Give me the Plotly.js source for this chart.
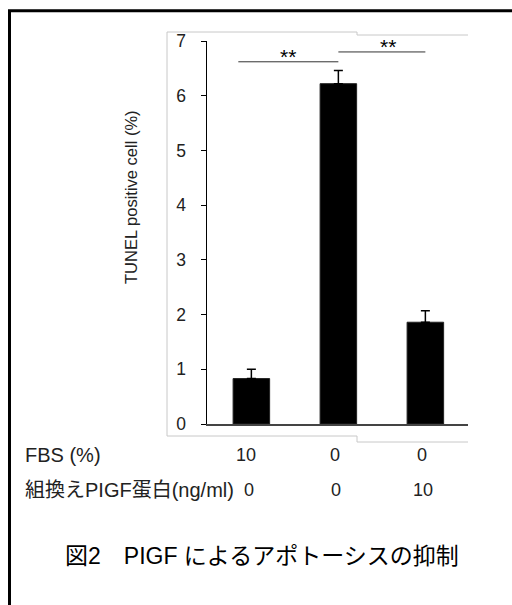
<!DOCTYPE html>
<html>
<head>
<meta charset="utf-8">
<script src="https://cdn.plot.ly/plotly-3.0.1.min.js"></script>
<style>html,body{margin:0;padding:0;background:#fff;}</style>
</head>
<body>
<div id="chart" style="width:512px;height:605px;"></div>
<script>
// ---- data ----
const groups = [0, 1, 2];
const values = [0.83, 6.22, 1.86];
const errPlus = [0.17, 0.24, 0.21];
const fbsLabels = ['10', '0', '0'];
const plgfLabels = ['0', '0', '10'];
const yTicks = [0, 1, 2, 3, 4, 5, 6, 7];
const sigStart = [-0.15, 1.0];
const sigEnd = [1.0, 2.0];
const sigLevel = [6.62, 6.80];
const sigStarX = [0.42, 1.57];
const sigText = ['**', '**'];
const rowNames = ['FBS (%)', '組換えPIGF蛋白(ng/ml)'];
const captionText = '図2　PIGF によるアポトーシスの抑制';
const yTitle = 'TUNEL positive cell (%)';

// ---- layout helpers (decoration only) ----
const W = 512, H = 605, mL = 207, mR = 44, mT = 41, mB = 181;
const pw = W - mL - mR, ph = H - mT - mB;
const PX = x => (x - mL) / pw;
const PY = y => (H - mB - y) / ph;

const latin = 'Liberation Sans, Arial, Noto Sans CJK JP, sans-serif';

const shapes = [];
// outer frame
shapes.push({type: 'rect', xref: 'paper', yref: 'paper',
  x0: PX(9.5), x1: PX(540), y0: PY(10.8), y1: PY(640),
  line: {color: '#000', width: 3}, fillcolor: 'rgba(0,0,0,0)', layer: 'above'});
// light grey crop box
const boxPath = `M${PX(167)},${PY(436)} L${PX(167)},${PY(32)} L${PX(357)},${PY(32)} L${PX(357)},${PY(35)} L${PX(468)},${PY(35)}`;
const boxPath2 = `M${PX(167)},${PY(436)} L${PX(357)},${PY(436)} L${PX(357)},${PY(442)} L${PX(468)},${PY(442)}`;
shapes.push({type: 'path', xref: 'paper', yref: 'paper', path: boxPath, line: {color: '#c8c8c8', width: 1}});
shapes.push({type: 'path', xref: 'paper', yref: 'paper', path: boxPath2, line: {color: '#c8c8c8', width: 1}});
// significance lines
for (let i = 0; i < sigStart.length; i++) {
  shapes.push({type: 'line', xref: 'x', yref: 'y', x0: sigStart[i], x1: sigEnd[i],
    y0: sigLevel[i], y1: sigLevel[i], line: {color: '#333', width: 1}});
}

const annotations = [];
for (let i = 0; i < sigText.length; i++) {
  annotations.push({xref: 'x', yref: 'y', x: sigStarX[i], y: sigLevel[i], text: sigText[i],
    showarrow: false, yanchor: 'bottom', yshift: -8, font: {family: latin, size: 21, color: '#000'}});
}
// y axis title (placed as in the original figure, above the axis centre)
annotations.push({xref: 'paper', yref: 'paper', x: PX(131), y: PY(197), xanchor: 'center', yanchor: 'middle',
  textangle: -90, text: yTitle, showarrow: false, font: {family: latin, size: 16.5, color: '#222'}});
// table rows
const rowY = [455, 490];
for (let r = 0; r < rowNames.length; r++) {
  annotations.push({xref: 'paper', yref: 'paper', x: PX(23), y: PY(rowY[r]), xanchor: 'left', yanchor: 'middle',
    text: rowNames[r], showarrow: false, font: {family: latin, size: 20, color: '#222'}});
}
for (let i = 0; i < groups.length; i++) {
  annotations.push({xref: 'x', yref: 'paper', x: groups[i], y: PY(rowY[0]), xshift: i === 0 ? -5 : -3,
    text: fbsLabels[i], showarrow: false, yanchor: 'middle', font: {family: latin, size: 18, color: '#222'}});
  annotations.push({xref: 'x', yref: 'paper', x: groups[i], y: PY(rowY[1]), xshift: i === 0 ? -2 : -2,
    text: plgfLabels[i], showarrow: false, yanchor: 'middle', font: {family: latin, size: 18, color: '#222'}});
}
// caption
annotations.push({xref: 'paper', yref: 'paper', x: PX(262), y: PY(556), xanchor: 'center', yanchor: 'middle',
  text: captionText, showarrow: false, font: {family: latin, size: 23, color: '#000'}});

const trace = {
  type: 'bar', x: groups, y: values, width: 0.42,
  marker: {color: '#000', line: {color: '#222', width: 1}},
  error_y: {type: 'data', symmetric: false, array: errPlus, arrayminus: [0, 0, 0],
    color: '#000', thickness: 1.5, width: 4.5},
  hoverinfo: 'none'
};

const layout = {
  width: W, height: H,
  margin: {l: mL, r: mR, t: mT, b: mB, pad: 0},
  paper_bgcolor: '#fff', plot_bgcolor: '#fff',
  showlegend: false,
  xaxis: {range: [-0.51, 2.49], showline: true, linecolor: '#444', linewidth: 1.5,
    showticklabels: false, ticks: '', showgrid: false, zeroline: false, fixedrange: true},
  yaxis: {range: [0, 7], tickvals: yTicks, ticktext: yTicks.map(String),
    showline: true, linecolor: '#000', linewidth: 1.5,
    ticks: 'outside', ticklen: 5, tickwidth: 1, tickcolor: '#000',
    ticklabelstandoff: 11,
    tickfont: {family: latin, size: 17.5, color: '#222'},
    showgrid: false, zeroline: false, fixedrange: true},
  shapes: shapes,
  annotations: annotations
};

Plotly.newPlot('chart', [trace], layout, {displayModeBar: false, staticPlot: true});
</script>
</body>
</html>
